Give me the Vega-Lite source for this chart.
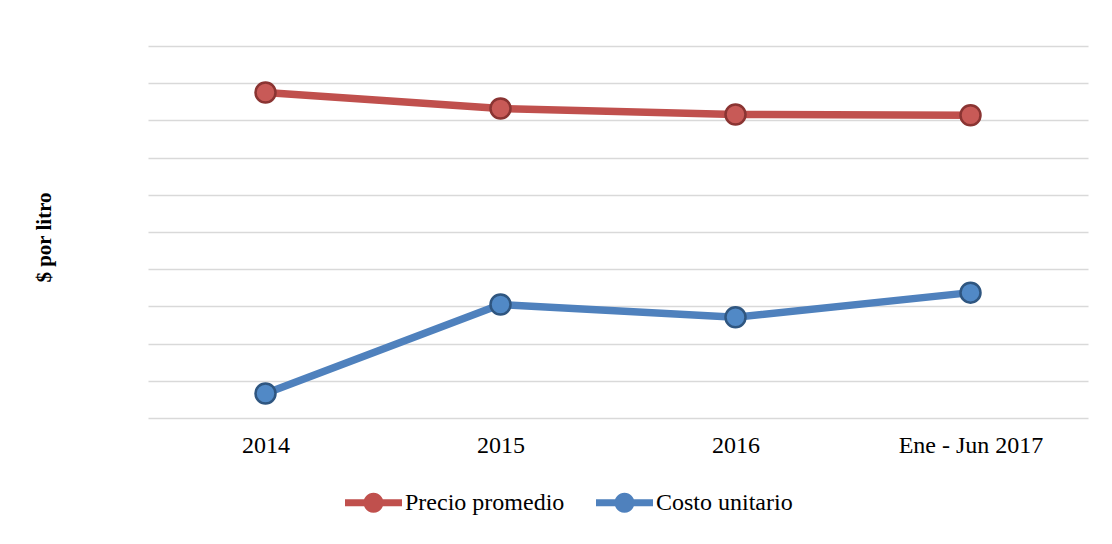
{
  "$schema": "https://vega.github.io/schema/vega-lite/v6.json",
  "width": 940,
  "height": 372,
  "autosize": {"type": "none"},
  "padding": {"left": 148, "top": 46, "right": 24, "bottom": 126},
  "background": "white",
  "config": {
    "view": {"stroke": null},
    "font": "Liberation Serif"
  },
  "data": {
    "values": [
      {"periodo": "2014", "serie": "Precio promedio", "valor": 8.75},
      {"periodo": "2015", "serie": "Precio promedio", "valor": 8.32},
      {"periodo": "2016", "serie": "Precio promedio", "valor": 8.16},
      {"periodo": "Ene - Jun 2017", "serie": "Precio promedio", "valor": 8.14},
      {"periodo": "2014", "serie": "Costo unitario", "valor": 0.66},
      {"periodo": "2015", "serie": "Costo unitario", "valor": 3.05},
      {"periodo": "2016", "serie": "Costo unitario", "valor": 2.71},
      {"periodo": "Ene - Jun 2017", "serie": "Costo unitario", "valor": 3.37}
    ]
  },
  "encoding": {
    "x": {
      "field": "periodo",
      "type": "nominal",
      "sort": ["2014", "2015", "2016", "Ene - Jun 2017"],
      "scale": {"type": "point", "padding": 0.5},
      "axis": {
        "title": null,
        "labelAngle": 0,
        "labelFont": "Liberation Serif",
        "labelFontSize": 24,
        "labelColor": "#000000",
        "labelPadding": 15,
        "ticks": false,
        "domain": false,
        "grid": false
      }
    },
    "y": {
      "field": "valor",
      "type": "quantitative",
      "scale": {"domain": [0, 10], "nice": false, "zero": true},
      "axis": {
        "values": [0, 1, 2, 3, 4, 5, 6, 7, 8, 9, 10],
        "labels": false,
        "ticks": false,
        "domain": false,
        "grid": true,
        "gridColor": "#d9d9d9",
        "gridWidth": 1.3,
        "title": "$ por litro",
        "titleFont": "Liberation Serif",
        "titleFontSize": 21,
        "titleFontWeight": "bold",
        "titleColor": "#000000",
        "titleAngle": -90,
        "titleX": -104,
        "titleY": 191,
        "titleAlign": "center",
        "titleBaseline": "middle"
      }
    }
  },
  "layer": [
    {
      "mark": {"type": "line", "strokeWidth": 7.5, "strokeCap": "round"},
      "encoding": {
        "color": {
          "field": "serie",
          "type": "nominal",
          "scale": {"domain": ["Precio promedio", "Costo unitario"], "range": ["#c0504d", "#4f81bd"]},
          "legend": {
            "title": null,
            "orient": "none",
            "direction": "horizontal",
            "legendX": 197,
            "legendY": 428,
            "symbolType": "M-1,-0.12 L1,-0.12 L1,0.12 L-1,0.12 Z M0.35,0 A0.35,0.35 0 1,1 -0.35,0 A0.35,0.35 0 1,1 0.35,0 Z",
            "symbolSize": 3249,
            "symbolStrokeWidth": 0,
            "symbolOpacity": 1,
            "labelFont": "Liberation Serif",
            "labelFontSize": 24,
            "labelColor": "#000000",
            "labelOffset": 3,
            "columnPadding": 31,
            "labelLimit": 400,
            "encode": {
              "symbols": {
                "update": {
                  "fill": {"scale": "color", "field": "value"},
                  "strokeWidth": {"value": 0}
                }
              }
            }
          }
        }
      }
    },
    {
      "transform": [{"filter": "datum.serie === 'Precio promedio'"}],
      "mark": {"type": "point", "filled": true, "size": 400, "strokeWidth": 2.5, "stroke": "#8a3432", "fill": "#c85a57", "opacity": 1}
    },
    {
      "transform": [{"filter": "datum.serie === 'Costo unitario'"}],
      "mark": {"type": "point", "filled": true, "size": 400, "strokeWidth": 2.5, "stroke": "#2f5680", "fill": "#5189c6", "opacity": 1}
    }
  ]
}
